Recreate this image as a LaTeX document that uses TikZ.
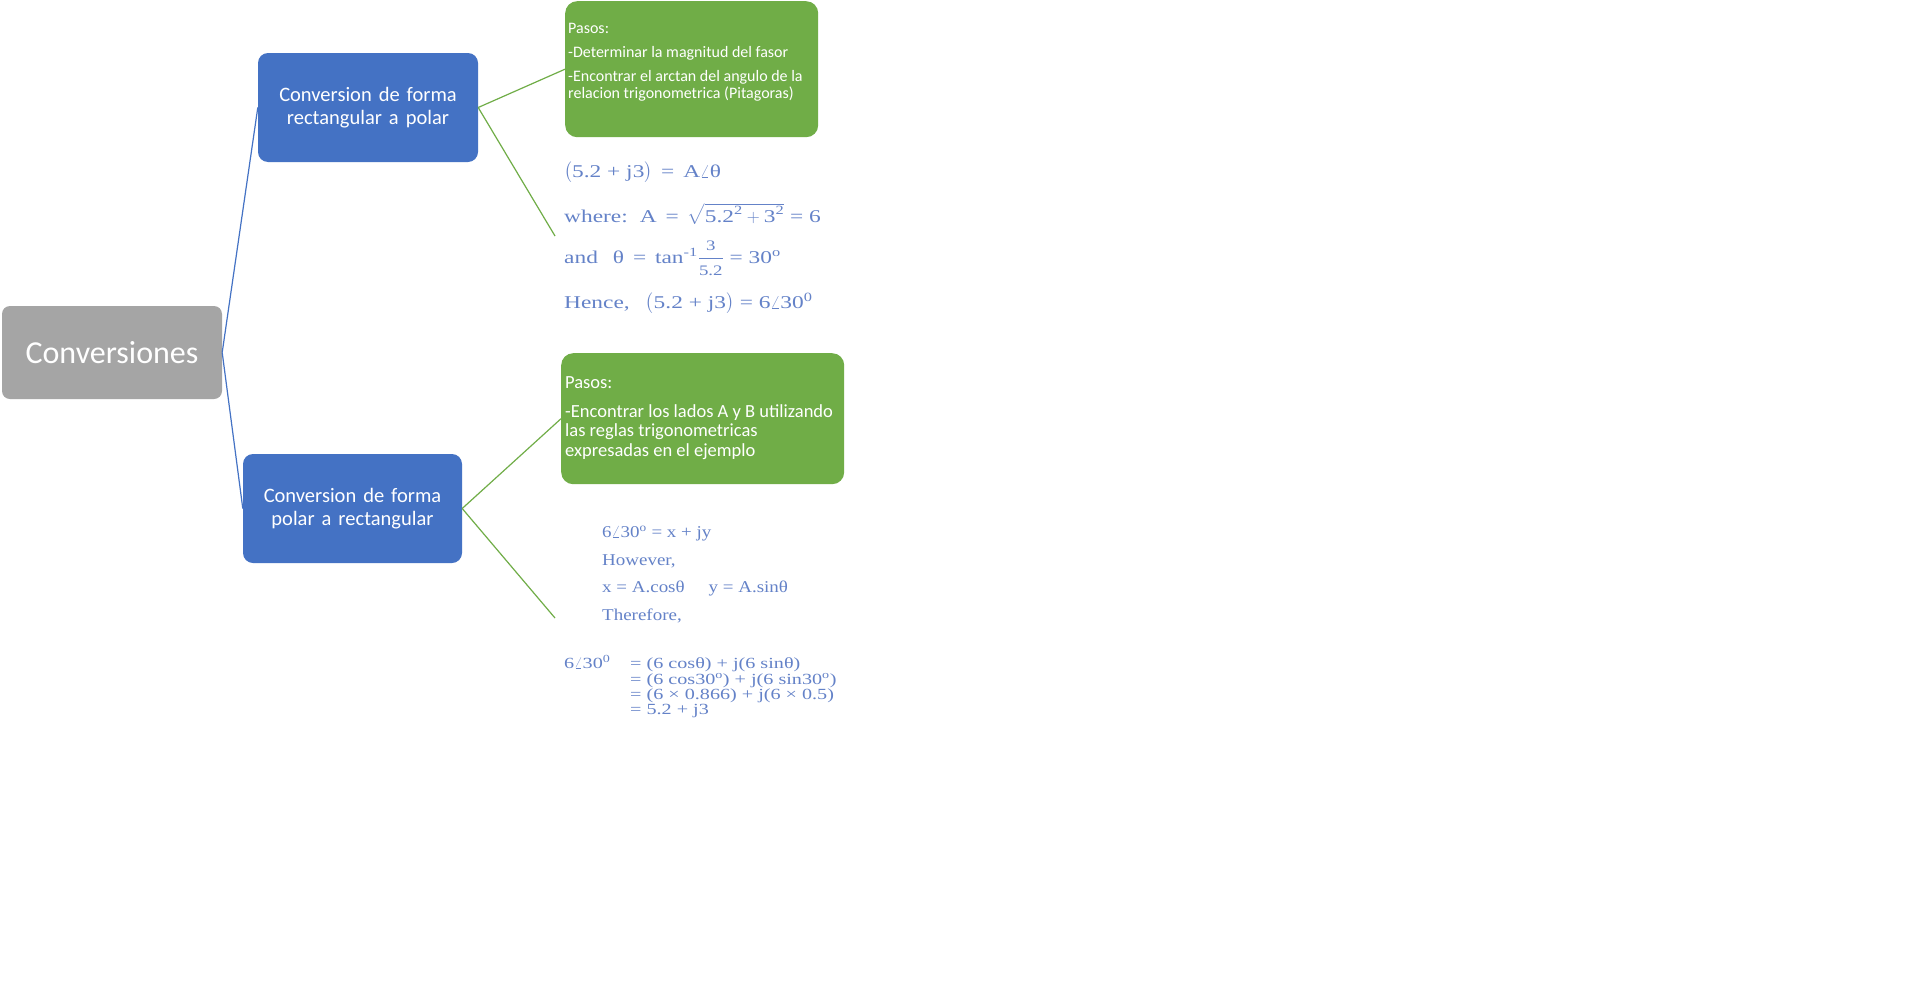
\RequirePackage{fix-cm}
\documentclass[tikz,border=0pt]{standalone}
\usepackage{amsmath}
\usepackage[no-math]{fontspec}
\setmainfont{Carlito}
\newfontfamily\eqfont[FakeStretch=1.3]{Liberation Serif}
\newfontfamily\eqnarrow[FakeStretch=1.15]{Liberation Serif}
\usepackage{tikz}
\definecolor{boxgrey}{HTML}{A5A5A5}
\definecolor{boxblue}{HTML}{4472C4}
\definecolor{boxgreen}{HTML}{70AD47}
\definecolor{eqblue}{RGB}{100,130,200}
\newcommand{\wideword}{\spaceskip 7pt plus 1pt\relax}
\tikzset{
  rootbox/.style={fill=boxgrey, rounded corners=8pt, text=white, minimum width=220pt, minimum height=93pt, inner sep=0pt, font=\fontsize{32}{38}\selectfont},
  convbox/.style={fill=boxblue, rounded corners=10pt, text=white, minimum width=220pt, minimum height=109pt, inner sep=0pt, align=center, font={\fontsize{20.5}{23}\selectfont\wideword}},
  pasosbox/.style={fill=boxgreen, rounded corners=12pt, text=white, anchor=north west, inner xsep=3pt, inner ysep=0pt},
  eqline/.style={anchor=base west, inner sep=0pt, text=eqblue},
  branch/.style={line width=1.2pt}
}

\begin{document}
\begin{tikzpicture}[x=1pt, y=-1pt]

      % Page size
      \fill[white] (0,0) rectangle (1920,1004);

      % Define text sizes
      \def\eqbig{\eqfont\fontsize{18}{22}\selectfont}
      \def\eqmid{\eqnarrow\fontsize{16.5}{20}\selectfont}
      \def\eqsmall{\eqfont\fontsize{15.5}{16}\selectfont}
      \def\fracsize{\fontsize{14.5}{15}\selectfont}

      % Draw the boxes
      \node[rootbox] (conv) at (112,352.5) {Conversiones};
      \node[convbox] (rectPolar) at (368,107.5) {Conversion de forma\\rectangular a polar};
      \node[convbox, minimum width=219pt] (polarRect) at (352.5,508.5) {Conversion de forma\\polar a rectangular};

      \node[pasosbox, font=\fontsize{16}{17.5}\selectfont] (pasosA) at (565,1) {\parbox[c][136pt][t]{247pt}{\vspace*{22pt}Pasos:\\[6.5pt]-Determinar la magnitud del fasor\\[6.5pt]-Encontrar el arctan del angulo de la\\relacion trigonometrica (Pitagoras)}};
      \node[pasosbox, inner xsep=4pt, font=\fontsize{18.5}{19.5}\selectfont] (pasosB) at (561,353) {\parbox[c][131pt][t]{275pt}{\vspace*{23pt}Pasos:\\[9.5pt]-Encontrar los lados A y B utilizando\\las reglas trigonometricas\\expresadas en el ejemplo}};

      % Rectangular to polar
      \coordinate (eqA) at (555,236);
      \node[eqline, font=\eqbig] (eqAone) at (564,177) {$\bigl($5.2 + j3$\bigr)$ \,=\, A$\angle$θ};
      \node[eqline, font=\eqbig] (eqAtwo) at (564,222) {where:\hspace{12pt}A \,=\, $\sqrt{\text{5.2}^{\text{2}} + \text{3}^{\text{2}}}$ = 6};
      \node[eqline, font=\eqbig] (eqAthree) at (564,263) {and\hspace{15pt}θ \,=\, tan\textsuperscript{-1}$\dfrac{\text{\fracsize 3}}{\text{\fracsize 5.2}}$ = 30\textsuperscript{o}};
      \node[eqline, font=\eqbig] (eqAfour) at (564,308) {Hence,\hspace{16pt}$\bigl($5.2 + j3$\bigr)$ = 6$\angle$30\textsuperscript{0}};

      % Polar to rectangular
      \coordinate (eqB) at (555,618);
      \node[eqline, font=\eqmid] (eqBone) at (602,537) {6$\angle$30\textsuperscript{o} = x + jy};
      \node[eqline, font=\eqmid] (eqBtwo) at (602,565) {However,};
      \node[eqline, font=\eqmid] (eqBthree) at (602,592) {x = A.cosθ\hspace{24pt}y = A.sinθ};
      \node[eqline, font=\eqmid] (eqBfour) at (602,620) {Therefore,};
      \node[eqline, font=\eqsmall] (eqBfive) at (564,668) {6$\angle$30\textsuperscript{0}};
      \node[eqline, font=\eqsmall] (eqBsix) at (630,668) {= (6 cosθ) + j(6 sinθ)};
      \node[eqline, font=\eqsmall] (eqBseven) at (630,684) {= (6 cos30\textsuperscript{o}) + j(6 sin30\textsuperscript{o})};
      \node[eqline, font=\eqsmall] (eqBeight) at (630,699) {= (6 × 0.866) + j(6 × 0.5)};
      \node[eqline, font=\eqsmall] (eqBnine) at (630,714) {= 5.2 + j3};

      % Draw the connectors
      \draw[branch, boxblue] (conv.east) -- (rectPolar.west);
      \draw[branch, boxblue] (conv.east) -- (polarRect.west);
      \draw[branch, boxgreen] (rectPolar.east) -- (pasosA.west);
      \draw[branch, boxgreen] (rectPolar.east) -- (eqA);
      \draw[branch, boxgreen] (polarRect.east) -- (pasosB.west);
      \draw[branch, boxgreen] (polarRect.east) -- (eqB);

\end{tikzpicture}
\end{document}
